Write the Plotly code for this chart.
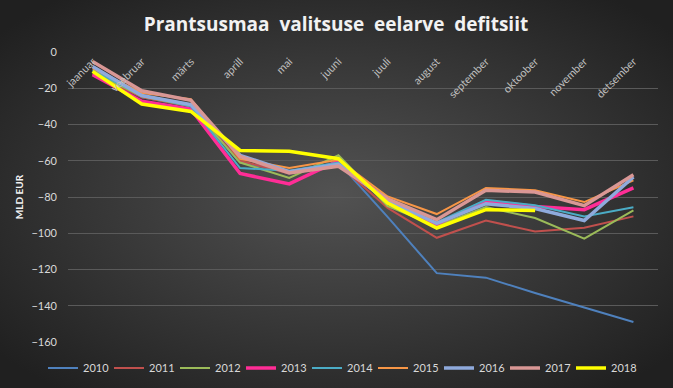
import base64
import plotly.graph_objects as go

months = ["jaanuar", "veebruar", "märts", "aprill", "mai", "juuni", "juuli",
          "august", "september", "oktoober", "november", "detsember"]

y2010 = [-11, -25, -30, -61, -66, -61, -91, -122, -124.5, -133, -141, -149]
y2011 = [-12, -25, -30, -60, -67, -62, -86, -102.5, -93, -99, -97, -90.7]
y2012 = [-11, -24.5, -30, -61, -69.5, -57, -85, -96, -85.5, -91.6, -103, -87.4]
y2013 = [-12.5, -27.2, -31.5, -67, -72.8, -60, -82, -95, -82.4, -85.2, -87, -75]
y2014 = [-10, -24, -30, -64, -65.5, -61, -83, -94, -81.5, -84.6, -90.7, -85.7]
y2015 = [-9, -22.6, -26, -59, -64, -59.5, -79.7, -89.4, -75, -76.3, -82.8, -70.8]
y2016 = [-8, -24, -29, -57, -66, -62, -82, -94.5, -83.7, -86.4, -93, -69]
y2017 = [-5.2, -21.4, -26.7, -57.6, -66.7, -63, -81, -92.5, -76.3, -77.3, -84.8, -67.7]
y2018 = [-10.7, -28.7, -32.8, -54.3, -54.8, -58.9, -83.3, -97.1, -87, -87.4, None, None]

series_names = ["2010", "2011", "2012", "2013", "2014", "2015", "2016", "2017", "2018"]
series_values = [y2010, y2011, y2012, y2013, y2014, y2015, y2016, y2017, y2018]
colors = ["#4F81BD", "#C0504D", "#9BBB59", "#FF2D96", "#4BACC6",
          "#F79646", "#8FAADC", "#D99795", "#FFFF00"]
widths = [2, 2, 2, 3.5, 2, 2, 3.5, 3.5, 3.5]

W, H = 673, 388
L, R, T, B = 68, 15, 52, 46
pw, ph = W - L - R, H - T - B

svg = f'''<svg xmlns="http://www.w3.org/2000/svg" width="{W}" height="{H}">
<defs><radialGradient id="g" cx="50%" cy="50%" r="65%">
<stop offset="0%" stop-color="#525252"/><stop offset="100%" stop-color="#202020"/>
</radialGradient></defs><rect width="{W}" height="{H}" fill="url(#g)"/></svg>'''
bg = "data:image/svg+xml;base64," + base64.b64encode(svg.encode()).decode()

fig = go.Figure()
for name, vals, c, w in zip(series_names, series_values, colors, widths):
    fig.add_trace(go.Scatter(x=months, y=vals, name=name, mode="lines",
                             line=dict(color=c, width=w)))

fig.update_layout(
    width=W, height=H,
    margin=dict(l=L, r=R, t=T, b=B, autoexpand=False),
    paper_bgcolor="#333333",
    plot_bgcolor="rgba(0,0,0,0)",
    font=dict(family="Lato, Open Sans, sans-serif", color="#D9D9D9", size=11),
    title=dict(text="Prantsusmaa\u00a0\u00a0valitsuse\u00a0\u00a0eelarve\u00a0\u00a0defitsiit",
               x=336 / W, xanchor="center", xref="container",
               y=1 - 24 / H, yanchor="middle",
               font=dict(size=19, color="#F2F2F2", family="Open Sans, Lato, sans-serif", weight="bold")),
    images=[dict(source=bg, xref="paper", yref="paper",
                 x=-L / pw, y=1 + T / ph, sizex=W / pw, sizey=H / ph,
                 xanchor="left", yanchor="top", sizing="stretch", layer="below")],
    xaxis=dict(type="category", anchor="free", position=1, side="bottom",
               tickangle=-45, showgrid=False, showline=False, ticks="",
               tickfont=dict(size=11, color="#BFBFBF"), range=[-0.5, 11.5],
               automargin=False),
    yaxis=dict(range=[-160, 0], dtick=20, showgrid=True, gridcolor="#5A5A5A",
               gridwidth=1, zeroline=False, showline=False, ticks="",
               tickfont=dict(size=11, color="#D9D9D9"), ticklabelstandoff=10,
               automargin=False,
               title=dict(text="<b>MLD EUR</b>", font=dict(size=10, color="#F2F2F2"),
                          standoff=5)),
    legend=dict(orientation="h", x=(340 - L) / pw, xanchor="center", y=-26 / ph, yanchor="middle",
                font=dict(size=11, color="#D9D9D9"), entrywidth=21,
                bgcolor="rgba(0,0,0,0)"),
    showlegend=True,
)

fig.write_html("out.html", config={"displayModeBar": False},
               post_script="document.body.style.margin='0';")
